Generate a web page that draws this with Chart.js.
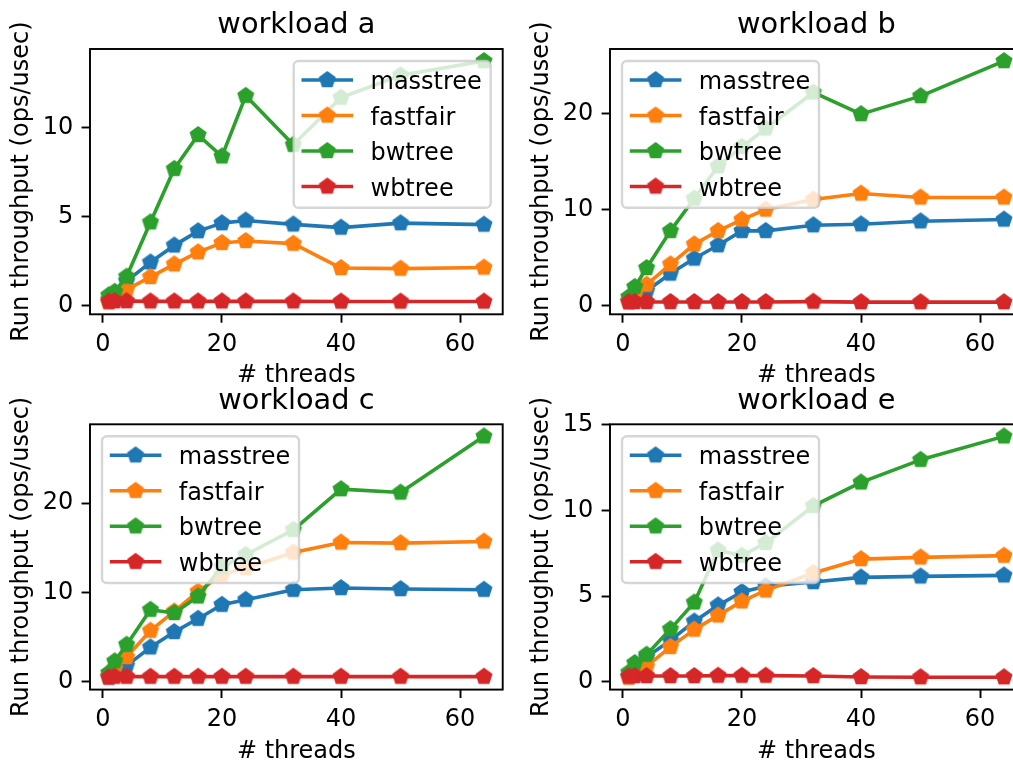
<!DOCTYPE html>
<html><head><meta charset="utf-8">
<script src="https://cdn.jsdelivr.net/npm/chart.js@4.4.0/dist/chart.umd.min.js"></script>
<style>
html,body{margin:0;padding:0;background:#fff;width:1013px;height:762px;overflow:hidden;position:relative}
canvas{position:absolute}
</style></head><body>
<canvas id="ca" width="520" height="400" style="left:0px;top:0px"></canvas>
<canvas id="cb" width="520" height="400" style="left:520px;top:0px"></canvas>
<canvas id="cc" width="520" height="400" style="left:0px;top:375px"></canvas>
<canvas id="ce" width="520" height="400" style="left:520px;top:375px"></canvas>
<script>
// ---- data ----
const threads = [1, 2, 4, 8, 12, 16, 20, 24, 32, 40, 50, 64];
const seriesNames = ['masstree', 'fastfair', 'bwtree', 'wbtree'];
const seriesColors = ['#1f77b4', '#ff7f0e', '#2ca02c', '#d62728'];
const panelTitles = ['workload a', 'workload b', 'workload c', 'workload e'];

const masstreeA = [0.35, 0.6, 1.4, 2.45, 3.4, 4.2, 4.65, 4.8, 4.58, 4.4, 4.65, 4.57];
const fastfairA = [0.21, 0.45, 0.92, 1.63, 2.34, 3.02, 3.54, 3.65, 3.5, 2.13, 2.1, 2.16];
const bwtreeA   = [0.6, 0.8, 1.65, 4.7, 7.7, 9.6, 8.4, 11.8, 9.05, 11.7, 12.95, 13.75];
const wbtreeA   = [0.24, 0.27, 0.27, 0.26, 0.26, 0.26, 0.26, 0.26, 0.26, 0.25, 0.25, 0.25];

const masstreeB = [0.45, 0.9, 1.56, 3.37, 4.93, 6.31, 7.8, 7.8, 8.39, 8.49, 8.8, 8.98];
const fastfairB = [0.5, 1.2, 2.22, 4.33, 6.41, 7.8, 8.98, 10.02, 11.06, 11.68, 11.27, 11.27];
const bwtreeB   = [0.94, 1.98, 3.95, 7.8, 11.16, 14.52, 16.53, 18.44, 22.18, 19.93, 21.8, 25.44];
const wbtreeB   = [0.39, 0.42, 0.42, 0.42, 0.42, 0.42, 0.42, 0.42, 0.45, 0.4, 0.4, 0.4];

const masstreeC = [0.5, 1.0, 1.79, 3.84, 5.56, 7.05, 8.62, 9.18, 10.3, 10.49, 10.38, 10.3];
const fastfairC = [0.6, 1.5, 2.76, 5.71, 7.87, 10.1, 11.98, 12.73, 14.48, 15.6, 15.53, 15.71];
const bwtreeC   = [0.97, 2.28, 4.14, 8.06, 7.69, 9.55, 12.9, 14.22, 17.02, 21.58, 21.2, 27.5];
const wbtreeC   = [0.45, 0.55, 0.55, 0.55, 0.55, 0.55, 0.55, 0.55, 0.55, 0.55, 0.55, 0.55];

const masstreeE = [0.3, 0.6, 1.44, 2.41, 3.52, 4.46, 5.24, 5.57, 5.82, 6.09, 6.15, 6.21];
const fastfairE = [0.24, 0.45, 0.89, 2.03, 3.04, 3.87, 4.69, 5.33, 6.35, 7.16, 7.26, 7.36];
const bwtreeE   = [0.54, 1.09, 1.58, 3.07, 4.63, 7.67, 7.36, 8.1, 10.27, 11.64, 12.96, 14.33];
const wbtreeE   = [0.3, 0.33, 0.33, 0.33, 0.33, 0.35, 0.35, 0.35, 0.33, 0.27, 0.26, 0.26];

const xTicks  = [0, 20, 40, 60];
const yTicksA = [0, 5, 10];
const yTicksB = [0, 10, 20];
const yTicksC = [0, 10, 20];
const yTicksE = [0, 5, 10, 15];

const xLabel = '# threads';
const yLabel = 'Run throughput (ops/usec)';

// ---- styling helpers ----
const FONT = 'DejaVu Sans';
const LINE_W = 3.6;
function pentagon(color) {
  const r = 7.5, lw = 2.4, size = 22;
  const c = document.createElement('canvas');
  c.width = size; c.height = size;
  const g = c.getContext('2d');
  g.beginPath();
  for (let i = 0; i < 5; i++) {
    const a = -Math.PI / 2 + i * 2 * Math.PI / 5;
    const x = size / 2 + r * Math.cos(a), y = size / 2 + r * Math.sin(a);
    if (i) g.lineTo(x, y); else g.moveTo(x, y);
  }
  g.closePath();
  g.fillStyle = color; g.fill();
  g.lineWidth = lw; g.lineJoin = 'miter'; g.strokeStyle = color; g.stroke();
  return c;
}
const markers = seriesColors.map(pentagon);

function padRange(vals) {
  const mn = Math.min(...vals), mx = Math.max(...vals);
  const m = (mx - mn) * 0.05;
  return [mn - m, mx + m];
}

const mplFrame = {
  id: 'mplFrame',
  afterDatasetsDraw(chart, args, opts) {
    const ctx = chart.ctx, ca = chart.chartArea;
    ctx.save();
    ctx.strokeStyle = '#000';
    ctx.lineWidth = 1.92;
    ctx.strokeRect(ca.left, ca.top, ca.right - ca.left, ca.bottom - ca.top);
    ctx.restore();
    // legend
    const W = 197, H = 146.7, pad = 12;
    const left = opts.corner === 'ur' ? ca.right - pad - W : ca.left + pad;
    const top = ca.top + pad;
    ctx.save();
    ctx.beginPath();
    ctx.roundRect(left, top, W, H, 4.8);
    ctx.fillStyle = 'rgba(255,255,255,0.8)';
    ctx.fill();
    ctx.lineWidth = 2.4;
    ctx.strokeStyle = 'rgba(204,204,204,0.8)';
    ctx.stroke();
    chart.data.datasets.forEach((ds, i) => {
      const y = top + 19 + i * 35.5;
      const x0 = left + 9.6, x1 = x0 + 48;
      ctx.beginPath();
      ctx.moveTo(x0, y); ctx.lineTo(x1, y);
      ctx.strokeStyle = ds.borderColor;
      ctx.lineWidth = LINE_W;
      ctx.lineCap = 'square';
      ctx.stroke();
      const img = ds.pointStyle;
      ctx.drawImage(img, (x0 + x1) / 2 - img.width / 2, y - img.height / 2);
      ctx.fillStyle = '#000';
      ctx.font = '24px "' + FONT + '"';
      ctx.textBaseline = 'alphabetic';
      ctx.textAlign = 'left';
      ctx.fillText(ds.label, left + 76.8, y + 9);
    });
    ctx.restore();
  }
};

function makePanel(id, title, series, yTicks, corner, chartTop, xTitlePad) {
  const all = [].concat(...series);
  const [ymin, ymax] = padRange(all);
  const [xmin, xmax] = padRange(threads);
  const H = 400;
  const chartBottom = chartTop + 265.3;
  const tickFont = {family: FONT, size: 24};
  const gridOpts = {display: true, drawOnChartArea: false, drawTicks: true, tickLength: 8.4, tickWidth: 1.92, tickColor: '#000'};
  new Chart(document.getElementById(id), {
    type: 'line',
    data: {
      datasets: series.map((arr, i) => ({
        label: seriesNames[i],
        data: threads.map((t, k) => ({x: t, y: arr[k]})),
        borderColor: seriesColors[i],
        backgroundColor: seriesColors[i],
        borderWidth: LINE_W,
        borderJoinStyle: 'round',
        borderCapStyle: 'square',
        pointStyle: markers[i],
        pointRadius: 8,
        tension: 0,
        fill: false,
        order: 3 - i
      }))
    },
    options: {
      responsive: false,
      animation: false,
      events: [],
      layout: {padding: {left: 0, right: 17.3, top: 0, bottom: 0}},
      plugins: {
        legend: {display: false},
        tooltip: {enabled: false},
        title: {
          display: true, text: title, fullSize: false, color: '#000',
          font: {family: FONT, size: 28.8, weight: 'normal', lineHeight: 1.2},
          padding: {top: chartTop - 40.3, bottom: 5.74}
        },
        mplFrame: {corner: corner}
      },
      scales: {
        x: {
          type: 'linear', min: xmin, max: xmax, bounds: 'data',
          ticks: {font: tickFont, color: '#000', padding: 7.5, maxRotation: 0, autoSkip: false},
          afterBuildTicks(s) { s.ticks = xTicks.map(v => ({value: v})); },
          grid: gridOpts,
          border: {display: false},
          title: {display: true, text: xLabel, color: '#000', font: {family: FONT, size: 24, lineHeight: 1.2}, padding: {top: 0, bottom: xTitlePad}},
          afterFit(s) { s.height = H - chartBottom; }
        },
        y: {
          type: 'linear', min: ymin, max: ymax, bounds: 'data',
          ticks: {font: tickFont, color: '#000', padding: 8.4, autoSkip: false},
          afterBuildTicks(s) { s.ticks = yTicks.map(v => ({value: v})); },
          grid: gridOpts,
          border: {display: false},
          title: {display: true, text: yLabel, color: '#000', font: {family: FONT, size: 24, lineHeight: 1.2}, padding: {top: 7.6, bottom: 0}},
          afterFit(s) { s.width = 90; }
        }
      }
    },
    plugins: [mplFrame]
  });
}

makePanel('ca', panelTitles[0], [masstreeA, fastfairA, bwtreeA, wbtreeA], yTicksA, 'ur', 49, 10.1);
makePanel('cb', panelTitles[1], [masstreeB, fastfairB, bwtreeB, wbtreeB], yTicksB, 'ul', 49, 10.1);
makePanel('cc', panelTitles[2], [masstreeC, fastfairC, bwtreeC, wbtreeC], yTicksC, 'ul', 49.3, 9.1);
makePanel('ce', panelTitles[3], [masstreeE, fastfairE, bwtreeE, wbtreeE], yTicksE, 'ul', 49.3, 9.1);
</script>
</body></html>
